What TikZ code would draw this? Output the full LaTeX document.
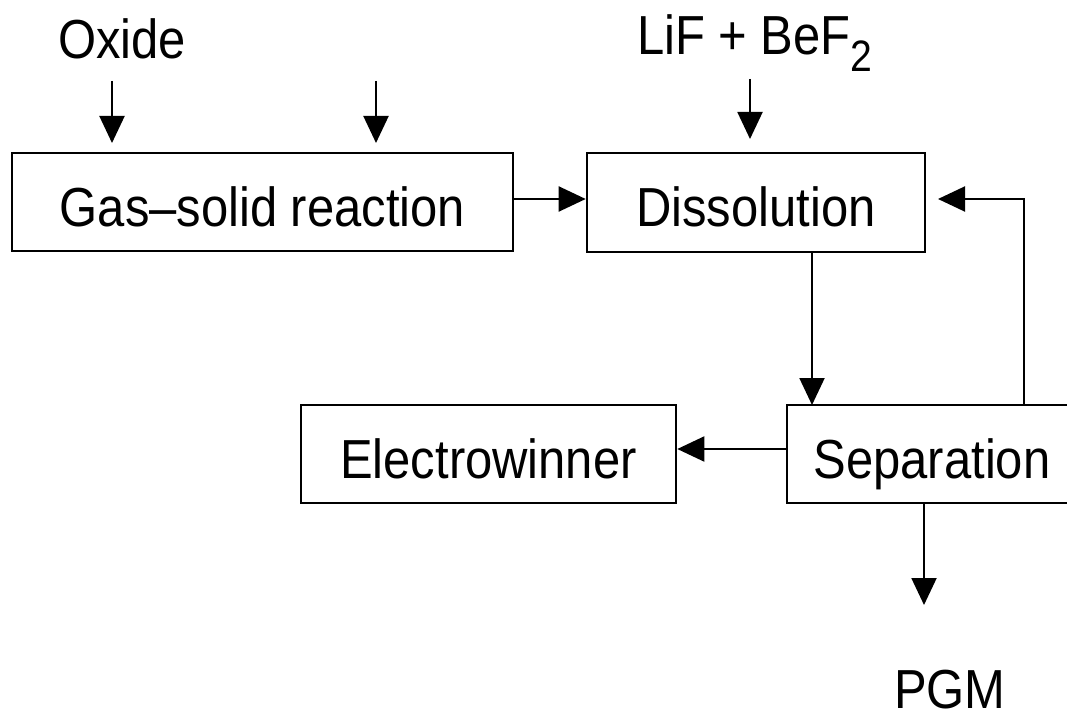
\documentclass[tikz,border=0pt]{standalone}
\usepackage{fontspec}
\setmainfont{Liberation Sans}[FakeStretch=0.89]
\usetikzlibrary{arrows.meta}
\begin{document}
\begin{tikzpicture}[x=1pt,y=-1pt,
  every node/.style={font=\fontsize{55pt}{60pt}\selectfont},
  procbox/.style={draw, line width=2.6pt, inner sep=0pt, text height=48pt, text depth=0pt},
  lbl/.style={inner sep=0pt, anchor=base},
  conn/.style={line width=2pt, -{Triangle[length=27pt,width=25pt]}}]
\useasboundingbox (0,0) rectangle (1067,719);
\clip (0,0) rectangle (1067,719);
\fill[white] (0,0) rectangle (1067,719);

% boxes
\node[procbox, minimum width=501pt, minimum height=98pt] (gas) at (262.5,202) {Gas–solid reaction};
\node[procbox, minimum width=338pt, minimum height=99pt] (diss) at (756,202.5) {Dissolution};
\node[procbox, minimum width=375pt, minimum height=98pt] (elec) at (488.5,454) {Electrowinner};
\node[procbox, minimum width=290pt, minimum height=98pt] (sep) at (932,454) {Separation};

% labels
\node[lbl] (oxide) at (122,59) {Oxide};
\node[lbl, anchor=base west] (lif) at (637,55) {LiF + BeF\raisebox{-17pt}{\fontsize{44pt}{44pt}\selectfont 2}};
\node[lbl] (pgm) at (950,708) {PGM};

% free ends
\coordinate (o1s) at (112,81);  \coordinate (o1e) at (112,143);
\coordinate (o2s) at (376,81);  \coordinate (o2e) at (376,143);
\coordinate (l1s) at (750,79);  \coordinate (l1e) at (750,139);
\coordinate (sepin) at (812,405);
\coordinate (pgmout) at (924,503);
\coordinate (pgmtip) at (924,605);
\coordinate (fbstart) at (1024,405);
\coordinate (fbcorner) at (1024,199);
\coordinate (fbtip) at (938,199);

% connectors
\draw[conn] (o1s) -- (o1e);
\draw[conn] (o2s) -- (o2e);
\draw[conn] (l1s) -- (l1e);
\draw[conn] (gas.east |- 0,199) -- (diss.west |- 0,199);
\draw[conn] (diss.south -| sepin) -- (sepin);
\draw[conn] ([yshift=5pt]sep.west) -- ([yshift=5pt]elec.east);
\draw[conn] (pgmout) -- (pgmtip);
\draw[conn] (fbstart) -- (fbcorner) -- (fbtip);
\end{tikzpicture}
\end{document}
